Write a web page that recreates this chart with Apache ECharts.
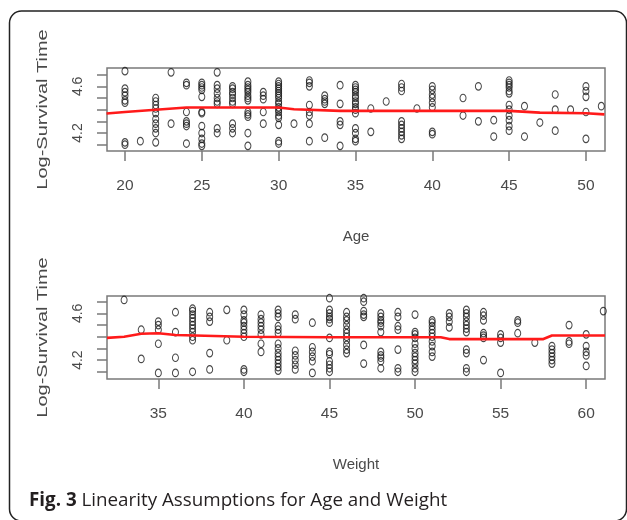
<!DOCTYPE html>
<html>
<head>
<meta charset="utf-8">
<script src="https://cdn.jsdelivr.net/npm/echarts@6/dist/echarts.min.js"></script>
<style>
  html, body { margin: 0; padding: 0; background: #fff; }
  #chart { width: 627px; height: 520px; }
</style>
</head>
<body>
<div id="chart"></div>
<script>
// Age panel: each age and the log-survival values seen at it
var ageCols = [20, 21, 22, 23, 24, 25, 26, 27, 28, 29, 30, 31, 32, 33, 34, 35, 36, 37, 38, 39, 40, 42, 43, 44, 45, 46, 47, 48, 49, 50, 51]
var ageVals = [
  [4.73, 4.58, 4.55, 4.52, 4.48, 4.46, 4.12, 4.10],
  [4.13],
  [4.50, 4.47, 4.44, 4.41, 4.37, 4.32, 4.28, 4.24, 4.20, 4.12],
  [4.72, 4.28],
  [4.63, 4.61, 4.38, 4.30, 4.28, 4.26, 4.11],
  [4.63, 4.61, 4.59, 4.57, 4.51, 4.38, 4.37, 4.26, 4.20, 4.15, 4.11, 4.09],
  [4.72, 4.61, 4.58, 4.54, 4.50, 4.47, 4.45, 4.24, 4.20],
  [4.60, 4.58, 4.55, 4.53, 4.50, 4.47, 4.45, 4.28, 4.24, 4.20],
  [4.64, 4.61, 4.59, 4.57, 4.55, 4.52, 4.50, 4.48, 4.38, 4.36, 4.34, 4.20, 4.09],
  [4.55, 4.52, 4.49, 4.38, 4.28],
  [4.64, 4.62, 4.60, 4.58, 4.56, 4.54, 4.52, 4.50, 4.47, 4.45, 4.42, 4.40, 4.38, 4.35, 4.33, 4.27, 4.13, 4.11],
  [4.28],
  [4.65, 4.63, 4.60, 4.44, 4.38, 4.35, 4.28, 4.13],
  [4.52, 4.49, 4.47, 4.45, 4.16],
  [4.61, 4.45, 4.30, 4.27, 4.09],
  [4.61, 4.59, 4.57, 4.55, 4.52, 4.50, 4.47, 4.45, 4.42, 4.40, 4.37, 4.24, 4.20, 4.15, 4.13],
  [4.41, 4.21],
  [4.47],
  [4.62, 4.59, 4.56, 4.30, 4.27, 4.24, 4.21, 4.18, 4.15],
  [4.41],
  [4.60, 4.57, 4.53, 4.50, 4.46, 4.42, 4.21, 4.19],
  [4.50, 4.35],
  [4.60, 4.30],
  [4.31, 4.17],
  [4.65, 4.63, 4.61, 4.59, 4.56, 4.54, 4.44, 4.40, 4.35, 4.31, 4.26, 4.22],
  [4.43, 4.17],
  [4.29],
  [4.53, 4.40, 4.22],
  [4.40],
  [4.60, 4.56, 4.51, 4.38, 4.15],
  [4.43]
]
var ageFitX = [18.8, 20, 22, 24, 30, 31, 34, 45, 47, 50, 51.2]
var ageFitY = [4.367, 4.38, 4.40, 4.418, 4.418, 4.404, 4.39, 4.39, 4.375, 4.37, 4.36]
var ageTicks = [20, 25, 30, 35, 40, 45, 50]

// Weight panel
var weightCols = [33, 34, 35, 36, 37, 38, 39, 40, 41, 42, 43, 44, 45, 46, 47, 48, 49, 50, 51, 52, 53, 54, 55, 56, 57, 58, 59, 60, 61]
var weightVals = [
  [4.715],
  [4.46, 4.21],
  [4.53, 4.50, 4.46, 4.34, 4.09],
  [4.61, 4.44, 4.22, 4.09],
  [4.64, 4.62, 4.59, 4.56, 4.53, 4.50, 4.47, 4.44, 4.40, 4.37, 4.10],
  [4.61, 4.57, 4.53, 4.26, 4.12],
  [4.63, 4.37],
  [4.63, 4.59, 4.54, 4.52, 4.49, 4.46, 4.43, 4.40, 4.12, 4.10],
  [4.59, 4.55, 4.52, 4.49, 4.46, 4.42, 4.34, 4.27],
  [4.63, 4.60, 4.57, 4.49, 4.46, 4.43, 4.34, 4.30, 4.26, 4.23, 4.20, 4.17, 4.14, 4.11],
  [4.59, 4.55, 4.28, 4.24, 4.20, 4.16, 4.12],
  [4.52, 4.31, 4.27, 4.23, 4.19, 4.09],
  [4.73, 4.63, 4.60, 4.57, 4.55, 4.52, 4.39, 4.27, 4.25, 4.19, 4.16, 4.13, 4.10],
  [4.61, 4.57, 4.54, 4.50, 4.46, 4.43, 4.40, 4.37, 4.33, 4.29, 4.26],
  [4.73, 4.70, 4.62, 4.59, 4.57, 4.33, 4.17],
  [4.60, 4.57, 4.54, 4.52, 4.49, 4.44, 4.27, 4.24, 4.22, 4.19, 4.13],
  [4.61, 4.57, 4.49, 4.46, 4.29, 4.13, 4.10],
  [4.59, 4.44, 4.42, 4.39, 4.34, 4.30, 4.26, 4.23, 4.20, 4.17, 4.13, 4.10],
  [4.54, 4.52, 4.49, 4.46, 4.43, 4.40, 4.36, 4.32, 4.27, 4.23],
  [4.60, 4.57, 4.53, 4.48],
  [4.63, 4.60, 4.57, 4.53, 4.50, 4.47, 4.44, 4.29, 4.26, 4.13, 4.10],
  [4.61, 4.58, 4.54, 4.43, 4.41, 4.39, 4.20],
  [4.42, 4.39, 4.35, 4.09],
  [4.54, 4.52, 4.43],
  [4.35],
  [4.32, 4.29, 4.26, 4.23, 4.20, 4.17],
  [4.50, 4.36, 4.34],
  [4.42, 4.32, 4.27, 4.24, 4.15],
  [4.62]
]
var weightFitX = [32, 33, 34, 35, 36, 40, 45, 51.5, 52, 57.5, 58, 61.1]
var weightFitY = [4.39, 4.40, 4.425, 4.43, 4.415, 4.40, 4.395, 4.395, 4.38, 4.38, 4.41, 4.41]
var weightTicks = [35, 40, 45, 50, 55, 60]

var yTicks = [4.1, 4.2, 4.3, 4.4, 4.5, 4.6, 4.7]
var yLabels = [4.2, 4.6]

function toPoints (cols, vals) {
  var pts = []
  cols.forEach(function (c, i) {
    vals[i].forEach(function (v) { pts.push([c, v]) })
  })
  return pts
}
function toLine (xs, ys) {
  return xs.map(function (x, i) { return [x, ys[i]] })
}

var axisGray = '#7a7a7a'
var textGray = '#4a4a4a'

function xAxisFor (idx, name, min, max, ticks) {
  return {
    type: 'value', gridIndex: idx, min: min, max: max,
    name: name, nameLocation: 'middle', nameGap: 78,
    nameTextStyle: { fontFamily: 'Liberation Sans', fontSize: 15, color: textGray },
    axisLine: { show: false },
    splitLine: { show: false },
    axisTick: { show: true, length: 10, customValues: ticks, lineStyle: { color: axisGray, width: 1.5 } },
    axisLabel: { customValues: ticks, margin: 27, fontFamily: 'Liberation Sans', fontSize: 15.5, color: textGray }
  }
}
function yAxisFor (idx, min, max) {
  return {
    type: 'value', gridIndex: idx, min: min, max: max,
    axisLine: { show: false },
    splitLine: { show: false },
    axisTick: { show: true, length: 10, customValues: yTicks, lineStyle: { color: axisGray, width: 1.5 } },
    axisLabel: { customValues: yLabels, rotate: 90, margin: 22, fontFamily: 'Liberation Sans', fontSize: 14, color: textGray,
      formatter: function (v) { return v.toFixed(1) } }
  }
}

var dotStyle = { color: 'rgba(0,0,0,0)', borderColor: '#1a1a1a', borderWidth: 1.1 }
var fitStyle = { color: '#ff1a1a', width: 2.6 }

var myChart = echarts.init(document.getElementById('chart'))
var option = {
  animation: false,
  backgroundColor: '#fff',
  title: {
    text: '{b|Fig. 3} Linearity Assumptions for Age and Weight',
    left: 24, top: 486,
    textStyle: {
      fontFamily: 'Open Sans', fontSize: 18.8, fontWeight: 'normal', color: '#231f20',
      rich: { b: { fontFamily: 'Open Sans', fontSize: 18.8, fontWeight: 'bold', color: '#231f20' } }
    }
  },
  grid: [
    { left: 107, top: 68, width: 498, height: 83, show: true, borderColor: axisGray, borderWidth: 1.5, backgroundColor: '#fff' },
    { left: 107, top: 296, width: 498, height: 83, show: true, borderColor: axisGray, borderWidth: 1.5, backgroundColor: '#fff' }
  ],
  xAxis: [
    xAxisFor(0, 'Age', 18.83, 51.24, ageTicks),
    xAxisFor(1, 'Weight', 32.0, 61.1, weightTicks)
  ],
  yAxis: [
    yAxisFor(0, 4.046, 4.757),
    yAxisFor(1, 4.038, 4.749)
  ],
  graphic: [
    { type: 'rect', shape: { x: 9.5, y: 11, width: 617, height: 510, r: 12 }, style: { fill: 'none', stroke: '#222', lineWidth: 1.5 }, z: 100 },
    { type: 'text', x: 43, y: 109.5, rotation: Math.PI / 2, scaleX: 1.38,
      style: { text: 'Log-Survival Time', font: '14.5px "Liberation Sans"', fill: textGray, align: 'center', verticalAlign: 'middle' } },
    { type: 'text', x: 43, y: 337.5, rotation: Math.PI / 2, scaleX: 1.38,
      style: { text: 'Log-Survival Time', font: '14.5px "Liberation Sans"', fill: textGray, align: 'center', verticalAlign: 'middle' } }
  ],
  series: [
    { type: 'scatter', xAxisIndex: 0, yAxisIndex: 0, symbol: 'circle', symbolSize: [6, 7.5], itemStyle: dotStyle, data: toPoints(ageCols, ageVals) },
    { type: 'line', xAxisIndex: 0, yAxisIndex: 0, showSymbol: false, lineStyle: fitStyle, data: toLine(ageFitX, ageFitY), z: 3 },
    { type: 'scatter', xAxisIndex: 1, yAxisIndex: 1, symbol: 'circle', symbolSize: [6, 7.5], itemStyle: dotStyle, data: toPoints(weightCols, weightVals) },
    { type: 'line', xAxisIndex: 1, yAxisIndex: 1, showSymbol: false, lineStyle: fitStyle, data: toLine(weightFitX, weightFitY), z: 3 }
  ]
}
myChart.setOption(option)
</script>
</body>
</html>
